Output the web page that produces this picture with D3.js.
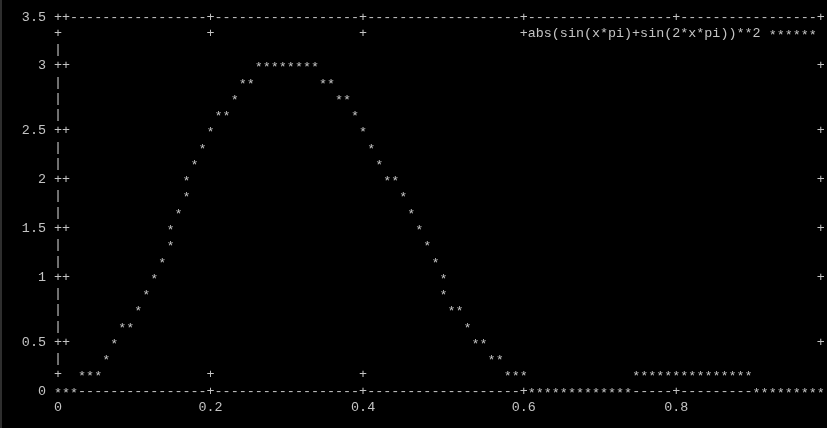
<!DOCTYPE html>
<html>
<head>
<meta charset="utf-8">
<script src="https://cdn.jsdelivr.net/npm/d3@7"></script>
<style>
  html, body { margin: 0; padding: 0; background: #000; }
  svg { display: block; filter: grayscale(1); }
  text { font-family: "Liberation Mono", "DejaVu Sans Mono", monospace; fill: #c4c4c4; white-space: pre; }
</style>
</head>
<body>
<script>

// ticks and labels
var xTicks = [0, 0.2, 0.4, 0.6, 0.8, 1];
var xTickLabels = ["0", "0.2", "0.4", "0.6", "0.8", "1"];
var yTicks = [0, 0.5, 1, 1.5, 2, 2.5, 3, 3.5];
var yTickLabels = ["0", "0.5", "1", "1.5", "2", "2.5", "3", "3.5"];
var keyLabel = "abs(sin(x*pi)+sin(2*x*pi))**2";

// curve: one y level per text row, with the x values hit on it
var curveLevels = [3.043, 2.891, 2.739, 2.587, 2.435, 2.283, 2.130, 1.978, 1.826, 1.674,
                   1.522, 1.370, 1.217, 1.065, 0.913, 0.761, 0.609, 0.457, 0.304, 0.152, 0];
var curveXs = [
	[.260, .271, .281, .292, .302, .313, .323, .333],
	[.240, .250, .344, .354],
	[.229, .365, .375],
	[.208, .219, .385],
	[.198, .396],
	[.188, .406],
	[.177, .417],
	[.167, .427, .438],
	[.167, .448],
	[.156, .458],
	[.146, .469],
	[.146, .479],
	[.135, .490],
	[.125, .500],
	[.115, .500],
	[.104, .510, .521],
	[.083, .094, .531],
	[.073, .542, .552],
	[.063, .563, .573],
	[.031, .042, .052, .583, .594, .604, .750, .760, .771, .781, .792, .802, .813, .823,
	 .833, .844, .854, .865, .875, .885, .896],
	[0, .010, .021, .615, .625, .635, .646, .656, .667, .677, .688, .698, .708, .719, .729,
	 .740, .906, .917, .927, .938, .948, .958, .969, .979, .990]
];

function load() {

	var width = 827, height = 428;

	// character grid of the terminal
	var cw = 8.03, rh = 16.26;
	var left = 58, top = 16;
	var cols = 96, rows = 23;
	var base = 4.6;
	var fs = cw / 0.6;

	var svg = d3.select("body").append("svg")
		.attr("width", width)
		.attr("height", height);

	svg.append("rect")
		.attr("width", width)
		.attr("height", height)
		.attr("fill", "#000");

	// window edge
	svg.append("rect")
		.attr("width", 2)
		.attr("height", height)
		.attr("fill", "#2e2e2e");

	var col = d3.scaleLinear().domain([0, 1]).range([0, cols]);
	var row = d3.scaleLinear().domain([0, 3.5]).range([rows, 0]);

	function px(c) { return left + c * cw; }
	function py(r) { return top + r * rh + base; }

	// flatten curve into cells
	var points = [];
	curveLevels.forEach(function(y, i) {
		curveXs[i].forEach(function(x) {
			points.push({x: x, y: y});
		});
	});
	var taken = {};
	points.forEach(function(d) {
		taken[Math.round(row(d.y)) + "," + Math.round(col(d.x))] = true;
	});

	// border and tick characters
	var cells = {};
	function put(r, c, ch) { cells[r + "," + c] = {r: r, c: c, ch: ch}; }

	for (var c = 0; c <= cols; c++) {
		put(0, c, "-");
		put(rows, c, "-");
	}
	for (var r = 0; r <= rows; r++) {
		put(r, 0, "|");
		put(r, cols, "|");
	}
	yTicks.forEach(function(v) {
		var r = Math.round(row(v));
		put(r, 0, "+"); put(r, 1, "+");
		put(r, cols, "+"); put(r, cols - 1, "+");
	});
	xTicks.forEach(function(v) {
		var c = Math.round(col(v));
		put(0, c, "+"); put(1, c, "+");
		put(rows, c, "+"); put(rows - 1, c, "+");
	});

	// key sits on row 1, right side
	var keyEnd = cols - 2;
	var sampleLen = 6;
	var sampleStart = keyEnd - sampleLen + 1;
	var labelStart = sampleStart - 1 - keyLabel.length;

	// the last column falls outside the window
	var borderCells = Object.values(cells).filter(function(d) {
		if (px(d.c) + cw / 2 > width) return false;
		if (taken[d.r + "," + d.c]) return false;
		if (d.r === 1 && d.c >= labelStart && d.c <= keyEnd) return false;
		return true;
	});

	var g = svg.append("g");

	g.selectAll("text.border")
		.data(borderCells)
		.enter().append("text")
			.attr("class", "border")
			.attr("x", function(d) { return px(d.c); })
			.attr("y", function(d) { return py(d.r); })
			.attr("text-anchor", "middle")
			.attr("font-size", fs)
			.text(function(d) { return d.ch; });

	// y tick labels, right aligned two columns left of the border
	g.selectAll("text.ylab")
		.data(yTicks)
		.enter().append("text")
			.attr("class", "ylab")
			.attr("x", px(-1.5))
			.attr("y", function(d) { return py(Math.round(row(d))); })
			.attr("text-anchor", "end")
			.attr("font-size", fs)
			.text(function(d, i) { return yTickLabels[i]; });

	// x tick labels, centred under the tick (the one at 1 is outside the window)
	g.selectAll("text.xlab")
		.data(xTicks.filter(function(d) { return px(Math.round(col(d))) + cw / 2 <= width; }))
		.enter().append("text")
			.attr("class", "xlab")
			.attr("x", function(d) { return px(Math.round(col(d))); })
			.attr("y", py(rows + 1))
			.attr("text-anchor", "middle")
			.attr("font-size", fs)
			.text(function(d) { return xTickLabels[xTicks.indexOf(d)]; });

	// key
	g.append("text")
		.attr("x", px(labelStart) - cw / 2)
		.attr("y", py(1))
		.attr("font-size", fs)
		.text(keyLabel);

	g.append("text")
		.attr("x", px(sampleStart) - cw / 2)
		.attr("y", py(1) + 2)
		.attr("font-size", fs)
		.text(d3.range(sampleLen).map(function() { return "*"; }).join(""));

	// the curve
	g.selectAll("text.star")
		.data(points)
		.enter().append("text")
			.attr("class", "star")
			.attr("x", function(d) { return px(Math.round(col(d.x))); })
			.attr("y", function(d) { return py(Math.round(row(d.y))) + 2; })
			.attr("text-anchor", "middle")
			.attr("font-size", fs)
			.text("*");
}

load();
</script>
</body>
</html>
